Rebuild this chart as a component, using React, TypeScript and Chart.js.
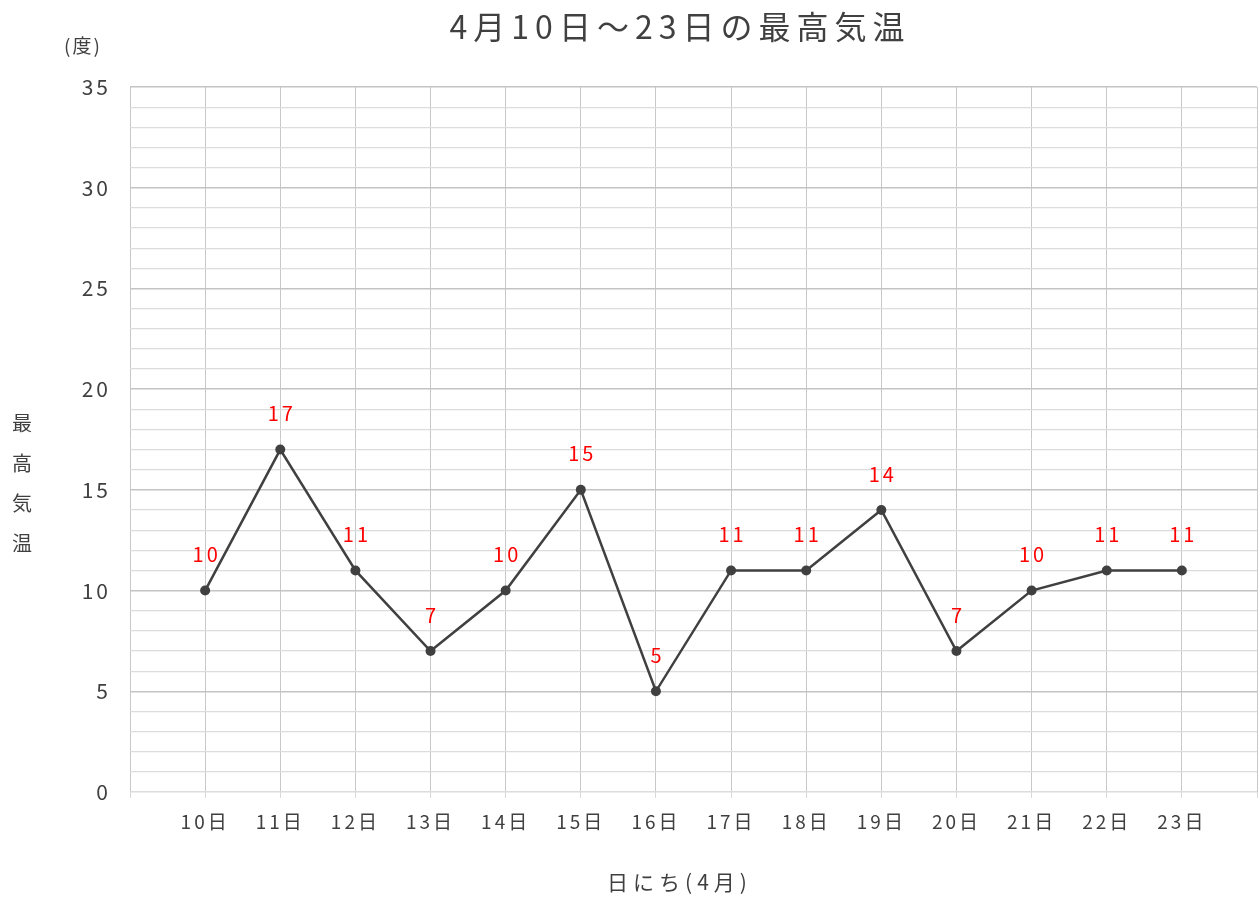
import React, { useEffect, useRef } from "react";
import { Chart, registerables } from "chart.js";

Chart.register(...registerables);

const days = ["10日", "11日", "12日", "13日", "14日", "15日", "16日", "17日", "18日", "19日", "20日", "21日", "22日", "23日"];
const temps = [10, 17, 11, 7, 10, 15, 5, 11, 11, 14, 7, 10, 11, 11];
const titleText = "4月10日〜23日の最高気温";
const yUnit = "(度)";
const yTitleChars = ["最", "高", "気", "温"];
const xTitleText = "日にち(4月)";

const FONT = "'Noto Sans CJK JP', 'Noto Sans', sans-serif";
const TEXT = "#404040";
const CANVAS_W = 1262;

function spacedText(ctx: any, text: string, x: number, y: number, spacing: number) {
  ctx.letterSpacing = `${spacing}px`;
  ctx.fillText(text, x + spacing / 2, y);
  ctx.letterSpacing = "0px";
}

export default function App() {
  const ref = useRef<HTMLCanvasElement | null>(null);
  useEffect(() => {
    if (!ref.current) return;
    const labels = ["", ...days, ""];
    const data = [null, ...temps, null];

    const textPlugin = {
      id: "texts",
      beforeDraw(chart: any) {
        chart.ctx.save();
        chart.ctx.letterSpacing = "3px";
      },
      beforeDatasetsDraw(chart: any) {
        chart.ctx.restore();
      },
      afterDatasetsDraw(chart: any) {
        const ctx = chart.ctx;
        const xs = chart.scales.x;
        const ys = chart.scales.y;
        ctx.save();
        ctx.fillStyle = "#ff0000";
        ctx.font = `20px ${FONT}`;
        ctx.textAlign = "center";
        ctx.textBaseline = "middle";
        temps.forEach((v, i) => {
          const x = xs.getPixelForValue(i + 1);
          const y = ys.getPixelForValue(v);
          spacedText(ctx, String(v), x, y - 36, 3);
        });
        ctx.fillStyle = TEXT;
        ctx.font = `32px ${FONT}`;
        spacedText(ctx, titleText, 677, 27, 6);
        ctx.font = `19px ${FONT}`;
        spacedText(ctx, yUnit, 82, 46, 2);
        ctx.font = `20px ${FONT}`;
        yTitleChars.forEach((c, i) => {
          ctx.fillText(c, 22, 423 + i * 40);
        });
        ctx.font = `21px ${FONT}`;
        spacedText(ctx, xTitleText, 677, 882, 5);
        ctx.restore();
      },
    };

    const chart = new Chart(ref.current, {
      type: "line",
      data: {
        labels,
        datasets: [
          {
            data,
            borderColor: "#404040",
            backgroundColor: "#404040",
            borderWidth: 2.5,
            pointRadius: 5,
            pointBackgroundColor: "#404040",
            pointBorderWidth: 0,
            tension: 0,
            spanGaps: false,
          },
        ],
      },
      options: {
        animation: false,
        responsive: false,
        maintainAspectRatio: false,
        layout: { padding: { top: 87, right: 0, left: 0, bottom: 0 } },
        plugins: {
          legend: { display: false },
          title: { display: false },
          tooltip: { enabled: false },
        },
        scales: {
          x: {
            type: "category",
            offset: false,
            afterFit(scale: any) {
              scale.height = 105;
              scale.paddingRight = 0;
              scale.paddingLeft = 0;
            },
            grid: {
              color: "#c8c8c8",
              lineWidth: 1,
              drawTicks: true,
              tickLength: 6,
              tickColor: "#d9d9d9",
            },
            border: { display: false },
            ticks: {
              autoSkip: false,
              maxRotation: 0,
              color: TEXT,
              font: { family: FONT, size: 19 },
              padding: 12,
            },
          },
          y: {
            min: 0,
            max: 35,
            afterFit(scale: any) {
              scale.width = 130;
            },
            grid: {
              drawTicks: false,
              color: (c: any) => (c.tick && c.tick.value % 5 === 0 && c.tick.value !== 0 ? "#c4c4c4" : "#dcdcdc"),
              lineWidth: (c: any) => (c.tick && c.tick.value % 5 === 0 ? 1.5 : 1.2),
            },
            border: { display: false },
            ticks: {
              stepSize: 1,
              autoSkip: false,
              color: TEXT,
              font: { family: FONT, size: 21 },
              padding: 19,
              callback: (v: any) => (Number(v) % 5 === 0 ? String(v) : ""),
            },
          },
        },
      },
      plugins: [textPlugin],
    });
    return () => chart.destroy();
  }, []);

  return (
    <div style={{ position: "fixed", left: 0, top: 0, width: 1259, height: 897, overflow: "hidden", background: "#fff" }}>
      <canvas ref={ref} width={CANVAS_W} height={897} style={{ width: CANVAS_W, height: 897, display: "block" }} />
    </div>
  );
}
